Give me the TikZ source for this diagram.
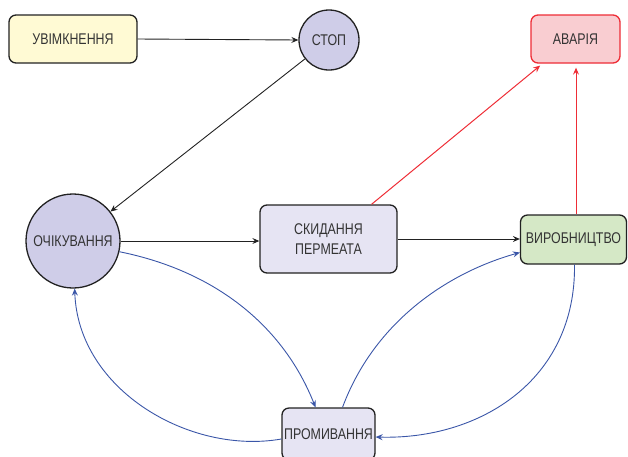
\documentclass[tikz,border=0pt]{standalone}
\usepackage{fontspec}
\setmainfont[FakeStretch=0.8]{Liberation Sans}
\usetikzlibrary{arrows.meta,calc}
\definecolor{txt}{HTML}{333333}
\definecolor{yelfill}{HTML}{FFFAD4}
\definecolor{cirfill}{HTML}{CFCDE8}
\definecolor{boxfill}{HTML}{E6E4F3}
\definecolor{grnfill}{HTML}{D5E8C6}
\definecolor{pinkfill}{HTML}{F9CDD1}
\definecolor{redline}{HTML}{EE2D36}
\definecolor{blueline}{HTML}{3A56A8}
\definecolor{edgeblack}{HTML}{222222}
\tikzset{
  stbox/.style={draw=edgeblack, line width=1.3pt, rounded corners=7pt, inner sep=0pt, align=center, text=txt, font=\fontsize{15.5}{20}\selectfont},
  stcirc/.style={draw=edgeblack, line width=1.3pt, circle, fill=cirfill, inner sep=0pt, text=txt, font=\fontsize{15.5}{20}\selectfont},
  blk/.style={draw=edgeblack, line width=0.9pt, -{Stealth[length=7pt,width=6pt,inset=2.5pt]}},
  redarr/.style={draw=redline, line width=1pt, -{Stealth[length=7pt,width=6pt,inset=2.5pt]}},
  bluearr/.style={draw=blueline, line width=0.9pt, -{Stealth[length=7pt,width=6pt,inset=2.5pt]}}
}
\begin{document}
\begin{tikzpicture}[x=1pt,y=-1pt]
\useasboundingbox (0,0) rectangle (628,456);
\node[stbox, fill=yelfill, minimum width=128pt, minimum height=48pt] (uvim) at (73,39) {УВІМКНЕННЯ};
\node[stcirc, minimum size=60pt] (stop) at (329,40) {СТОП};
\node[stbox, draw=redline, fill=pinkfill, minimum width=89pt, minimum height=48pt] (avar) at (575.5,39) {АВАРІЯ};
\node[stcirc, minimum size=94pt] (och) at (73,241) {ОЧІКУВАННЯ};
\node[stbox, fill=boxfill, minimum width=137pt, minimum height=68pt] (skid) at (328.5,239) {СКИДАННЯ\\ПЕРМЕАТА};
\node[stbox, fill=grnfill, minimum width=106pt, minimum height=49pt] (vyr) at (573.5,239.5) {ВИРОБНИЦТВО};
\node[stbox, fill=boxfill, minimum width=93pt, minimum height=52pt] (prom) at (328.5,434) {ПРОМИВАННЯ};

\draw[blk] (uvim.east) -- (stop.west);
\draw[blk] (stop) -- (och);
\draw[blk] (och.east) -- (och.east -| skid.west);
\draw[blk] (skid.east) -- (skid.east -| vyr.west);
\draw[redarr, shorten >=3pt] ([xshift=43pt]skid.north) -- ([xshift=-33pt]avar.south);
\draw[redarr, shorten >=4pt] ([xshift=2.5pt]vyr.north) -- ([xshift=2.5pt]vyr.north |- avar.south);
\draw[bluearr] (och.-13) .. controls (220,272) and (285,330) .. ([xshift=-13pt]prom.north);
\draw[bluearr] ([yshift=-5pt]prom.west) .. controls (190,455) and (78,390) .. (och.-88);
\draw[bluearr] ([xshift=14pt]prom.north) .. controls (375,320) and (450,272) .. ([yshift=-13pt]vyr.west);
\draw[bluearr] ([xshift=1pt]vyr.south) .. controls (576,380) and (480,440) .. ([yshift=-3pt]prom.east);
\end{tikzpicture}
\end{document}
